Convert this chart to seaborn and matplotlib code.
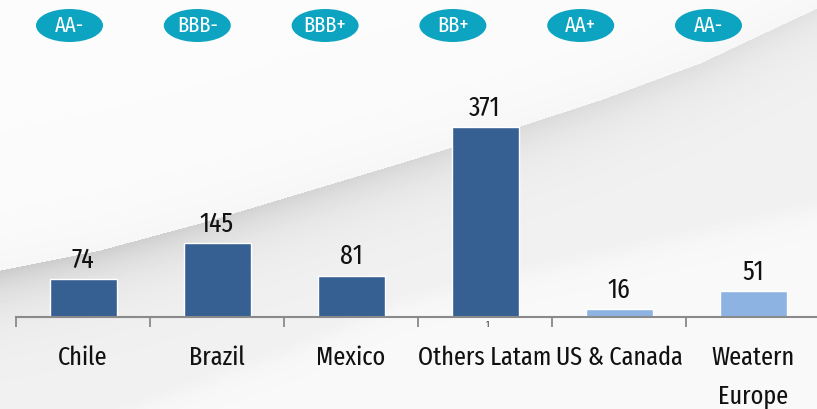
import numpy as np
import matplotlib
matplotlib.use("Agg")
import matplotlib.pyplot as plt
from matplotlib import font_manager
from matplotlib.font_manager import FontProperties
from matplotlib.textpath import TextPath
from matplotlib.patches import Ellipse
import seaborn as sns

regions = ["Chile", "Brazil", "Mexico", "Others Latam", "US & Canada", "Weatern\nEurope"]
exposure = [74, 145, 81, 371, 16, 51]
ratings = ["AA-", "BBB-", "BBB+", "BB+", "AA+", "AA-"]
bar_colors = ["#366092", "#366092", "#366092", "#366092", "#8DB3E2", "#8DB3E2"]

sns.set_theme(style="white")


# the original uses a condensed face, take the narrowest one installed
def narrow_rank(f):
    n = f.name.replace(" ", "").lower()
    if "extracondensed" in n:
        return 0
    if "semicondensed" in n:
        return 3
    if "condensed" in n or "narrow" in n:
        return 1
    if f.stretch in ("condensed", "extra-condensed"):
        return 2
    if f.stretch == "semi-condensed":
        return 4
    return 9


faces = [f for f in font_manager.fontManager.ttflist
         if f.style == "normal" and f.weight in (400, "normal", "regular", "book")]
faces = sorted(faces, key=narrow_rank)
if faces and narrow_rank(faces[0]) < 9:
    font_file = faces[0].fname
else:
    font_file = font_manager.findfont("DejaVu Sans")
fp = FontProperties(fname=font_file)


def fit_size(txt, max_w, start):
    s = start
    while s > 8:
        w = TextPath((0, 0), txt, size=s * 100 / 72, prop=fp).get_extents().width
        if w <= max_w:
            break
        s -= 0.5
    return s


fs = fit_size("Others Latam", 131, 20)
fs_num = fit_size("371", 37, 20)
fs_badge = fit_size("BBB+", 46, 16)

W, H = 817, 409
fig = plt.figure(figsize=(W / 100, H / 100), dpi=100)

# background swoosh
bg = fig.add_axes([0, 0, 1, 1], zorder=-5)
xx, yy = np.meshgrid(np.arange(W), np.arange(H))
up_x = [0, 100, 200, 300, 400, 517, 600, 700, 817]
up_y = [270, 250, 223, 193, 163, 127, 100, 63, 8]
lo_x = [0, 300, 400, 517, 817]
lo_y = [450, 340, 295, 267, 200]
d_up = yy - np.interp(xx, up_x, up_y)
d_lo = np.interp(xx, lo_x, lo_y) - yy
strength = 0.15 - 0.09 * xx / W
band = 0.945 - strength * np.exp(-np.clip(d_up, 0, None) / 30)
band = np.where(d_lo < 0, 0.975 - 0.03 * np.exp(d_lo / 15), band)
above = 0.985 - 0.02 * np.exp(np.clip(d_up, None, 0) / 40)
img = np.where(d_up > 0, band, above)
bg.imshow(img, cmap="gray", vmin=0, vmax=1, aspect="auto", interpolation="bilinear")
bg.axis("off")

ax = fig.add_axes([16 / W, (H - 317) / H, 804 / W, 317 / H])
ax.set_facecolor("none")
sns.barplot(x=regions, y=exposure, hue=regions, palette=bar_colors, legend=False,
            width=0.5, saturation=1, ax=ax)
ax.set_xlim(-0.5, 5.5)
ax.set_ylim(0, 619)
for c in ax.containers:
    ax.bar_label(c, fmt="%d", padding=4, fontproperties=fp, fontsize=fs_num, color="#111111")

for s in ["top", "right", "left"]:
    ax.spines[s].set_visible(False)
ax.spines["bottom"].set_color("#8a8a8a")
ax.spines["bottom"].set_linewidth(1.5)
ax.set_yticks([])
ax.set_xlabel("")
ax.set_ylabel("")
ax.set_xticks(np.arange(-0.5, 6, 1), minor=True)
ax.tick_params(axis="x", which="minor", bottom=True, length=7, width=1.3, color="#8a8a8a",
               direction="out")
ax.tick_params(axis="x", which="major", length=0, pad=20, labelcolor="#111111")
for lab in ax.get_xticklabels():
    lab.set_fontproperties(fp)
    lab.set_fontsize(fs)
    lab.set_linespacing(1.75)
    lab.set_verticalalignment("top")

ax.text(3.02, -6, "1", fontproperties=fp, fontsize=7, ha="center", va="top", color="#333333")

# rating badges
for i, r in enumerate(ratings):
    cx = (69.5 + i * 127.8) / W
    cy = (H - 25.5) / H
    fig.patches.append(Ellipse((cx, cy), 67 / W, 33 / H, transform=fig.transFigure,
                               facecolor="#0DA4C1", edgecolor="none", figure=fig))
    fig.text(cx, cy, r, ha="center", va="center", fontproperties=fp, fontsize=fs_badge,
             color="white")

fig.savefig("out.png", dpi=100)
